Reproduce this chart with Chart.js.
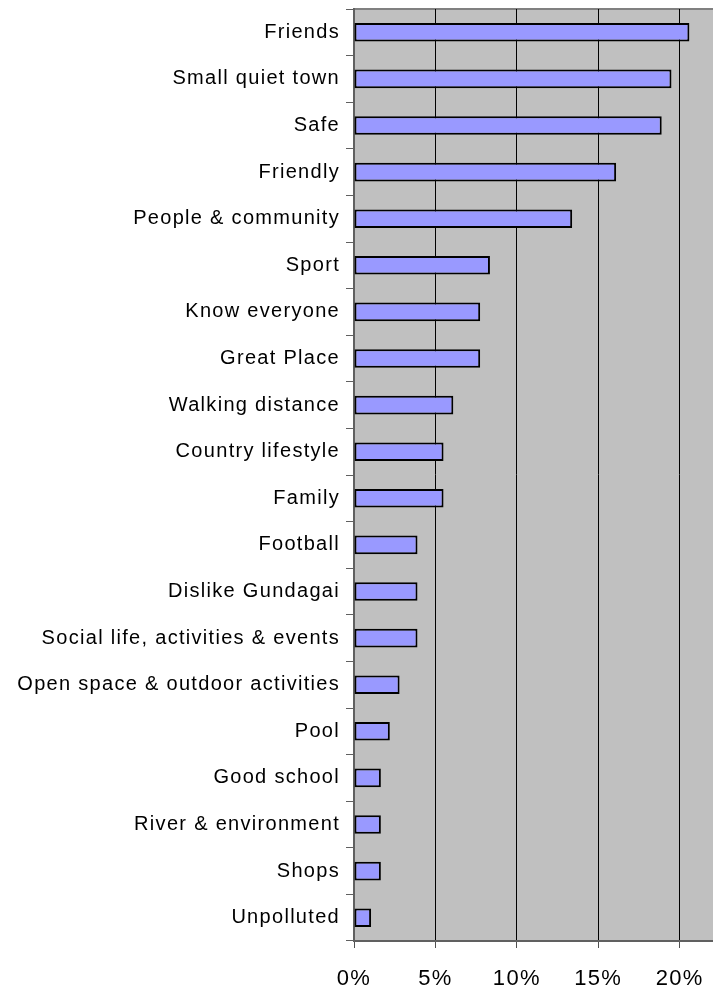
<!DOCTYPE html>
<html>
<head>
<meta charset="utf-8">
<title>What do you like about Gundagai</title>
<script src="https://cdn.jsdelivr.net/npm/chart.js@4/dist/chart.umd.min.js"></script>
<style>
    body { margin: 0; background: #ffffff; }
    canvas { display: block; }
</style>
</head>
<body>
<canvas id="likesChart" width="713" height="989"></canvas>
<script>
// Answers, top to bottom, and the share of respondents giving each one (%)
const categories = [
    'Friends', 'Small quiet town', 'Safe', 'Friendly', 'People & community',
    'Sport', 'Know everyone', 'Great Place', 'Walking distance', 'Country lifestyle',
    'Family', 'Football', 'Dislike Gundagai', 'Social life, activities & events',
    'Open space & outdoor activities', 'Pool', 'Good school', 'River & environment',
    'Shops', 'Unpolluted'
];
const shares = [
    20.6, 19.5, 18.9, 16.1, 13.4,
    8.35, 7.75, 7.75, 6.1, 5.5,
    5.5, 3.9, 3.9, 3.9,
    2.8, 2.2, 1.65, 1.65,
    1.65, 1.05
];
const xTicks = [0, 5, 10, 15, 20];
const xMax = 22.05;

document.addEventListener('DOMContentLoaded', function() {

    // grey plot area, top border line, and the wide letter spacing of the labels
    const plotArea = {
        id: 'plotArea',
        beforeUpdate(chart) {
            chart.ctx.letterSpacing = '1.3px';
        },
        beforeDraw(chart) {
            const c = chart.ctx;
            const a = chart.chartArea;
            c.save();
            c.fillStyle = '#C0C0C0';
            c.fillRect(a.left, a.top, a.right - a.left, a.bottom - a.top);
            c.strokeStyle = '#808080';
            c.lineWidth = 2;
            c.beginPath();
            c.moveTo(a.left, a.top);
            c.lineTo(a.right, a.top);
            c.stroke();
            c.restore();
            c.letterSpacing = '1.3px';
        }
    };

    function initChart() {
        const ctx = document.getElementById('likesChart').getContext('2d');
        new Chart(ctx, {
            type: 'bar',
            data: {
                labels: categories,
                datasets: [{
                    data: shares,
                    backgroundColor: '#9999FF',
                    borderColor: '#000000',
                    borderWidth: 2,
                    borderSkipped: false,
                    barPercentage: 0.4,
                    categoryPercentage: 1.0
                }]
            },
            options: {
                indexAxis: 'y',
                responsive: false,
                animation: false,
                layout: { padding: { top: 9, right: 0, left: 0, bottom: 0 } },
                plugins: {
                    legend: { display: false },
                    tooltip: { enabled: false }
                },
                scales: {
                    x: {
                        min: 0,
                        max: xMax,
                        afterBuildTicks: function(scale) {
                            scale.ticks = xTicks.map(v => ({ value: v }));
                        },
                        afterFit: function(scale) {
                            scale.height = 48;
                            scale.paddingLeft = 0;
                            scale.paddingRight = 0;
                        },
                        grid: {
                            color: '#000000',
                            lineWidth: 1,
                            tickColor: '#505050',
                            tickLength: 7
                        },
                        border: { color: '#606060', width: 2 },
                        ticks: {
                            color: '#000000',
                            padding: 18,
                            maxRotation: 0,
                            font: { family: "'Liberation Sans', Arial, sans-serif", size: 22 },
                            callback: function(value) { return value + '%'; }
                        }
                    },
                    y: {
                        afterFit: function(scale) {
                            scale.width = 354;
                            scale.paddingTop = 0;
                            scale.paddingBottom = 0;
                        },
                        grid: {
                            offset: true,
                            drawOnChartArea: false,
                            tickColor: '#606060',
                            tickLength: 8
                        },
                        border: { color: '#606060', width: 2 },
                        ticks: {
                            color: '#000000',
                            padding: 6,
                            autoSkip: false,
                            font: { family: "'Liberation Sans', Arial, sans-serif", size: 20 }
                        }
                    }
                }
            },
            plugins: [plotArea]
        });
    }

    initChart();
});
</script>
</body>
</html>
